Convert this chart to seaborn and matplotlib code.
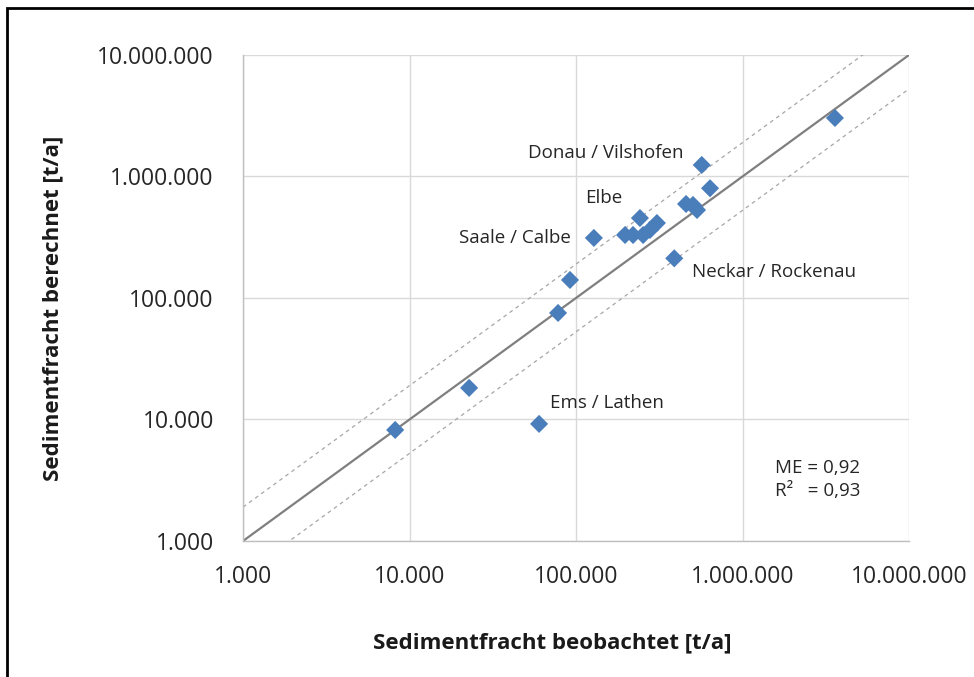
import numpy as np
import pandas as pd
import seaborn as sns
import matplotlib
matplotlib.use("Agg")
from matplotlib import pyplot as plt
from matplotlib.ticker import FuncFormatter, NullLocator
from matplotlib.patches import Rectangle

beobachtet = [8200, 22800, 78000, 92000, 60000, 128000,
              197000, 220000, 253000, 278000, 306000, 242000,
              389000, 458000, 504000, 533000, 638000, 569000, 3590000]
berechnet = [8200, 18200, 75300, 140700, 9200, 312000,
             330000, 330000, 330000, 363000, 414000, 455000,
             212000, 594000, 583000, 530000, 800000, 1244000, 3030000]

labels = ["Donau / Vilshofen", "Elbe", "Saale / Calbe", "Neckar / Rockenau", "Ems / Lathen"]
label_pos_x = [51500, 113000, 19800, 497000, 69800]
label_pos_y = [1560000, 665000, 312000, 164000, 13700]

line_range = [1e3, 1e7]
factor = 1.9
stats_text = "ME = 0,92\nR\u00b2   = 0,93"

df = pd.DataFrame({"beobachtet": beobachtet, "berechnet": berechnet})

sns.set_style("white")
plt.rcParams["font.family"] = ["Open Sans", "DejaVu Sans"]

fig = plt.figure(figsize=(9.74, 6.77), dpi=100)
ax = fig.add_axes([0.2495, 0.2009, 0.6838, 0.7179])

# reference lines: 1:1 and factor band
lr = np.array(line_range)
ax.plot(lr, lr, color="#7f7f7f", lw=1.6, zorder=2)
ax.plot(lr, lr * factor, color="#a6a6a6", lw=0.9, ls=(0, (3, 3)), zorder=2)
ax.plot(lr, lr / factor, color="#a6a6a6", lw=0.9, ls=(0, (3, 3)), zorder=2)

sns.scatterplot(data=df, x="beobachtet", y="berechnet", marker="D", s=85,
                color="#4a7ebb", edgecolor="none", ax=ax, zorder=3)

ax.set_xscale("log")
ax.set_yscale("log")
ax.set_xlim(line_range)
ax.set_ylim(line_range)
ax.xaxis.set_minor_locator(NullLocator())
ax.yaxis.set_minor_locator(NullLocator())

fmt = FuncFormatter(lambda v, p: f"{int(round(v)):,}".replace(",", "."))
ax.xaxis.set_major_formatter(fmt)
ax.yaxis.set_major_formatter(fmt)
ax.tick_params(axis="both", which="major", labelsize=16.5, colors="#bfbfbf",
               labelcolor="#262626", length=6, width=1, direction="out")
ax.tick_params(axis="x", pad=11)
ax.tick_params(axis="y", pad=15)

ax.grid(True, color="#d9d9d9", lw=1)
for side in ["top", "right"]:
    ax.spines[side].set_visible(False)
for side in ["left", "bottom"]:
    ax.spines[side].set_color("#bfbfbf")
    ax.spines[side].set_linewidth(1)

ax.set_xlabel("Sedimentfracht beobachtet [t/a]", fontsize=16, fontweight="bold",
              color="#1a1a1a", va="center")
ax.set_ylabel("Sedimentfracht berechnet [t/a]", fontsize=16, fontweight="bold",
              color="#1a1a1a", va="center")
ax.xaxis.set_label_coords(0.464, -0.21)
ax.yaxis.set_label_coords(-0.285, 0.479)

for lab, lx, ly in zip(labels, label_pos_x, label_pos_y):
    ax.text(lx, ly, lab, fontsize=13.5, color="#262626", va="center", ha="left")

ax.text(0.799, 0.1265, stats_text, transform=ax.transAxes, fontsize=13.5,
        color="#262626", va="center", ha="left", linespacing=1.35)

# outer frame of the exported figure
fig.patches.append(Rectangle((7 / 974, -0.1), 1.2, 1 - 8 / 677 + 0.1,
                             transform=fig.transFigure, fill=False,
                             edgecolor="black", lw=2))

fig.savefig("out.png", dpi=100)
